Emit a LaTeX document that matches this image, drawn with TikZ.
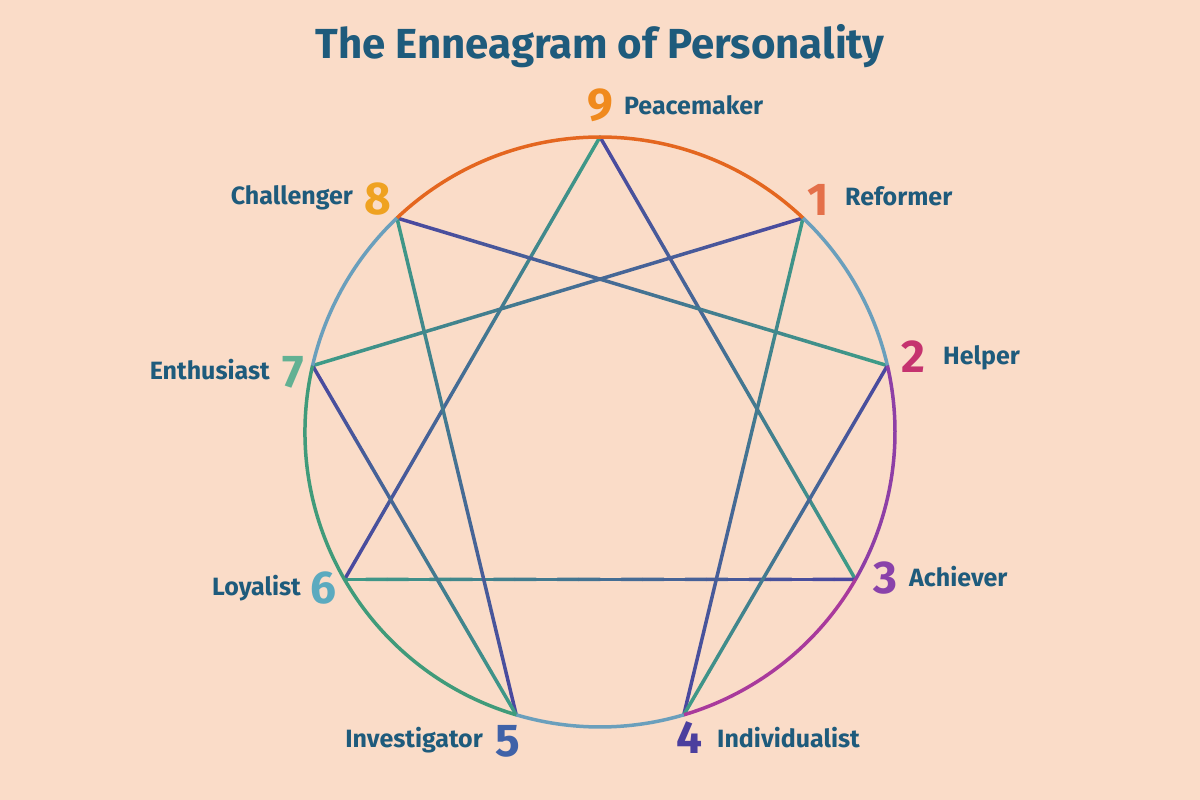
\documentclass[tikz,border=0pt]{standalone}
\usepackage{fontspec}
\setmainfont{Fira Sans}
\usetikzlibrary{calc}

\definecolor{bg}{HTML}{FADCC8}
\definecolor{ink}{HTML}{1E5B7C}
\definecolor{indigo}{HTML}{4A46A0}
\definecolor{teal}{HTML}{3E9C86}
\definecolor{ringorange}{HTML}{E4661F}
\definecolor{ringblue}{HTML}{6A9FBC}
\definecolor{ringpurple}{HTML}{8E3FA6}
\definecolor{ringmagenta}{HTML}{A93A9C}
\definecolor{ringgreen}{HTML}{409B7A}
\definecolor{c9}{HTML}{F08A1E}
\definecolor{c8}{HTML}{EFA221}
\definecolor{c1}{HTML}{E4704A}
\definecolor{c2}{HTML}{C5336F}
\definecolor{c3}{HTML}{8A42AA}
\definecolor{c4}{HTML}{4B3F9E}
\definecolor{c5}{HTML}{3F62A8}
\definecolor{c6}{HTML}{5BAABF}
\definecolor{c7}{HTML}{62B193}

\tikzset{
  ring/.style={line width=3.5pt},
  chord/.style={line width=3.5pt, line cap=round},
  digit/.style={inner sep=0pt, font=\fontsize{46}{50}\selectfont\bfseries},
  typename/.style={inner sep=0pt, text=ink, font=\fontsize{25}{30}\selectfont\bfseries}
}

% chord from #1 to #2, colour going from #3 to #4
\newcommand{\gline}[4]{%
  \foreach \k in {1,...,24}{
    \pgfmathsetmacro{\pa}{(\k-1)/24}
    \pgfmathsetmacro{\pb}{\k/24}
    \pgfmathtruncatemacro{\pc}{100-(\k-0.5)*100/24}
    \draw[chord, color=#3!\pc!#4] ($(#1)!\pa!(#2)$) -- ($(#1)!\pb!(#2)$);
  }}

\begin{document}
\begin{tikzpicture}[x=1pt,y=1pt]

  \fill[bg] (0,0) rectangle (1200,800);
  \useasboundingbox (0,0) rectangle (1200,800);

  \node[text=ink, font=\fontsize{42}{50}\selectfont\bfseries] (title) at (600,754) {The Enneagram of Personality};

  \coordinate (c) at (600,368);
  \foreach \n/\a in {9/90,1/46.5,2/13,3/-30,4/-73.5,5/-106.5,6/-150,7/167,8/133.5}
    \coordinate (p\n) at ($(c)+(\a:295)$);

  \gline{p9}{p3}{indigo}{teal}
  \gline{p6}{p9}{indigo}{teal}
  \gline{p6}{p3}{teal}{indigo}
  \gline{p1}{p7}{indigo}{teal}
  \gline{p8}{p2}{indigo}{teal}
  \gline{p8}{p5}{teal}{indigo}
  \gline{p1}{p4}{teal}{indigo}
  \gline{p7}{p5}{indigo}{teal}
  \gline{p2}{p4}{indigo}{teal}

  \draw[ring, ringorange] (p8) arc[start angle=133.5, end angle=46.5, radius=295];
  \draw[ring, ringblue] (p1) arc[start angle=46.5, end angle=13, radius=295];
  \draw[ring, ringpurple] (p2) arc[start angle=13, end angle=-30, radius=295];
  \draw[ring, ringmagenta] (p3) arc[start angle=-30, end angle=-73.5, radius=295];
  \draw[ring, ringblue] (p4) arc[start angle=-73.5, end angle=-106.5, radius=295];
  \draw[ring, ringgreen] (p5) arc[start angle=-106.5, end angle=-193, radius=295];
  \draw[ring, ringblue] (p7) arc[start angle=167, end angle=133.5, radius=295];

  \begin{scope}[every node/.style=digit]
    \node[text=c9] (d9) at (600,695) {9};
    \node[text=c1] (d1) at (818,600) {1};
    \node[text=c2] (d2) at (913,443) {2};
    \node[text=c3] (d3) at (885,222) {3};
    \node[text=c4] (d4) at (689,62) {4};
    \node[text=c5] (d5) at (508,59) {5};
    \node[text=c6] (d6) at (323,212) {6};
    \node[text=c7] (d7) at (293,428) {7};
    \node[text=c8] (d8) at (378,601) {8};
  \end{scope}

  \begin{scope}[every node/.style=typename]
    \node[anchor=west] (l9) at (624,695) {Peacemaker};
    \node[anchor=west] (l1) at (845,604) {Reformer};
    \node[anchor=west] (l2) at (943,442) {Helper};
    \node[anchor=west] (l3) at (909,223) {Achiever};
    \node[anchor=west] (l4) at (717,62) {Individualist};
    \node[anchor=east] (l5) at (483,60) {Investigator};
    \node[anchor=east] (l6) at (301,212) {Loyalist};
    \node[anchor=east] (l7) at (270,430) {Enthusiast};
    \node[anchor=east] (l8) at (353,602) {Challenger};
  \end{scope}

\end{tikzpicture}
\end{document}
